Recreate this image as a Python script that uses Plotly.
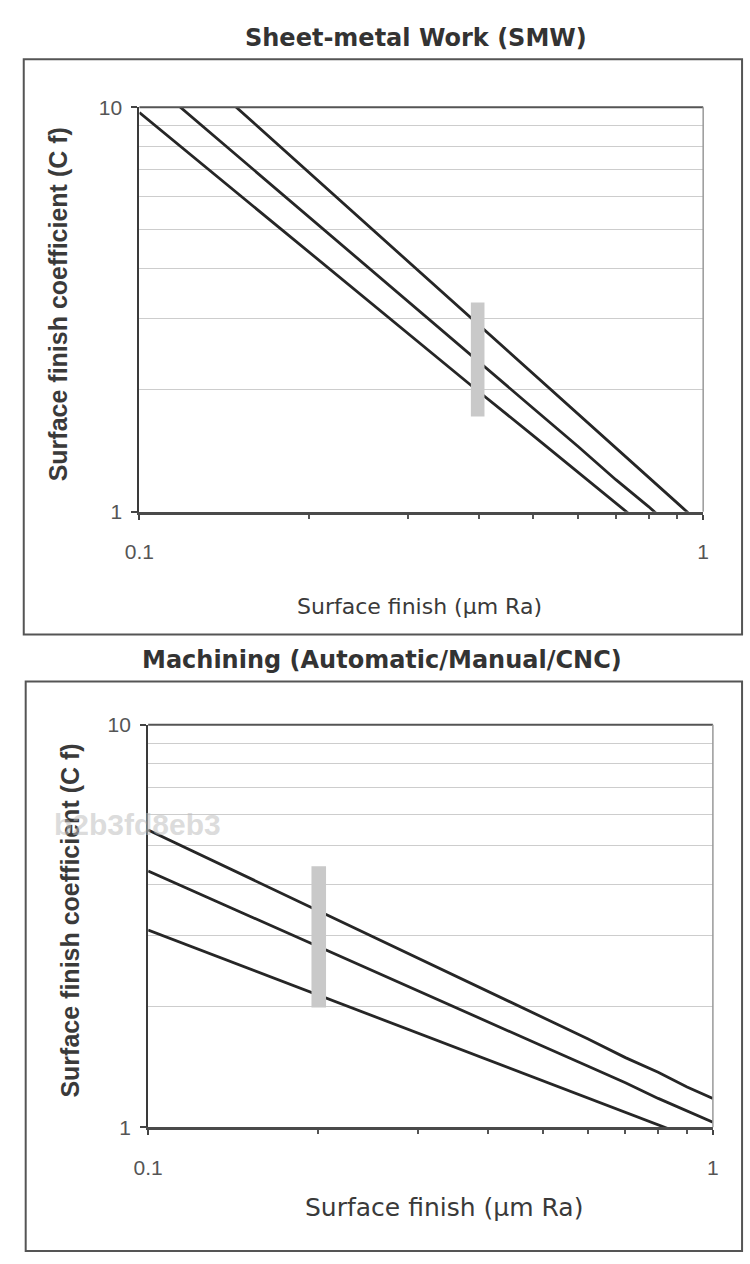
import plotly.graph_objects as go

W, H = 750, 1264

# ---------------- data ----------------
ra = [0.1, 0.2, 0.3, 0.4, 0.5, 0.6, 0.7, 0.8, 0.9, 1.0]

# Sheet-metal Work (SMW): surface finish coefficient Cf vs Ra
smw_low = [9.7, 4.38, 2.76, 1.98, 1.54, 1.25, 1.05, 0.90, 0.79, 0.70]
smw_mid = [12.2, 5.34, 3.30, 2.34, 1.80, 1.45, 1.20, 1.03, 0.89, 0.79]
smw_high = [16.4, 6.90, 4.16, 2.90, 2.20, 1.75, 1.44, 1.22, 1.05, 0.92]

# Machining (Automatic/Manual/CNC)
mach_high = [5.48, 3.45, 2.63, 2.17, 1.87, 1.66, 1.49, 1.37, 1.26, 1.18]
mach_mid = [4.33, 2.81, 2.18, 1.82, 1.59, 1.42, 1.29, 1.18, 1.10, 1.03]
mach_low = [3.09, 2.13, 1.71, 1.47, 1.30, 1.18, 1.09, 1.01, 0.95, 0.90]

y_ticks = [1, 10]
y_tick_text = ["1", "10"]
y_minor = [2, 3, 4, 5, 6, 7, 8, 9]
x_ticks = [0.1, 1]
x_tick_text = ["0.1", "1"]
x_minor = [0.2, 0.3, 0.4, 0.5, 0.6, 0.7, 0.8, 0.9]

top_title = "Sheet-metal Work (SMW)"
bot_title = "Machining (Automatic/Manual/CNC)"
x_title = "Surface finish (\u03bcm Ra)"
y_title = "Surface finish coefficient (C f)"
watermark = "b2b3fd8eb3"

# ---------------- helpers ----------------
def px(x):
    return x / W

def py(y):
    return 1 - y / H

FONT = "Liberation Sans, Arial, sans-serif"
WIDE = "DejaVu Sans, Liberation Sans, sans-serif"
LINE_COLOR = "#262626"

fig = go.Figure()

for ys in (smw_low, smw_mid, smw_high):
    fig.add_trace(go.Scatter(x=ra, y=ys, mode="lines", xaxis="x", yaxis="y",
                             line=dict(color=LINE_COLOR, width=2.8),
                             showlegend=False, hoverinfo="skip"))
for ys in (mach_high, mach_mid, mach_low):
    fig.add_trace(go.Scatter(x=ra, y=ys, mode="lines", xaxis="x2", yaxis="y2",
                             line=dict(color=LINE_COLOR, width=2.8),
                             showlegend=False, hoverinfo="skip"))

def xaxis_cfg(domain, anchor):
    return dict(
        type="log", range=[-1, 0], domain=domain, anchor=anchor,
        tickvals=x_ticks, ticktext=x_tick_text,
        ticks="outside", ticklen=5, tickwidth=1.5, tickcolor="#444",
        ticklabelstandoff=14,
        tickfont=dict(family=FONT, size=21, color="#555"),
        showgrid=False, zeroline=False,
        showline=True, linecolor="#4a4a4a", linewidth=3,
        minor=dict(tickvals=x_minor, ticks="outside", ticklen=4,
                   tickwidth=1.5, tickcolor="#555", showgrid=False),
        fixedrange=True,
    )

def yaxis_cfg(domain, anchor):
    return dict(
        type="log", range=[0, 1], domain=domain, anchor=anchor,
        tickvals=y_ticks, ticktext=y_tick_text,
        ticks="outside", ticklen=6, tickwidth=1.5, tickcolor="#444",
        ticklabelstandoff=5,
        tickfont=dict(family=FONT, size=21, color="#555"),
        showgrid=False, zeroline=False,
        showline=True, linecolor="#3a3a3a", linewidth=2,
        minor=dict(tickvals=y_minor, ticks="", showgrid=True,
                   gridcolor="#cdcdcd", gridwidth=1),
        fixedrange=True,
    )

top_x = [px(128), px(708)]
top_y = [py(509), py(97)]
bot_x = [px(137), px(718)]
bot_y = [py(1136), py(726)]

shapes = []
# outer frames
shapes.append(dict(type="rect", xref="paper", yref="paper",
                   x0=px(9), x1=px(748), y0=py(634), y1=py(48),
                   line=dict(color="#555", width=2), fillcolor="rgba(0,0,0,0)",
                   layer="below"))
shapes.append(dict(type="rect", xref="paper", yref="paper",
                   x0=px(11), x1=px(748), y0=py(1262), y1=py(682),
                   line=dict(color="#555", width=2), fillcolor="rgba(0,0,0,0)",
                   layer="below"))
# plot-area borders (top dark, right grey)
for (xd, yd) in ((top_x, top_y), (bot_x, bot_y)):
    shapes.append(dict(type="line", xref="paper", yref="paper",
                       x0=xd[0], x1=xd[1], y0=yd[1], y1=yd[1],
                       line=dict(color="#555", width=2)))
    shapes.append(dict(type="line", xref="paper", yref="paper",
                       x0=xd[1], x1=xd[1], y0=yd[0], y1=yd[1],
                       line=dict(color="#999", width=1.5)))
# grey label boxes on the curves
shapes.append(dict(type="rect", xref="paper", yref="paper",
                   x0=px(469), x1=px(483), y0=py(412), y1=py(296),
                   line=dict(width=0), fillcolor="#c9c9c9", layer="above"))
shapes.append(dict(type="rect", xref="paper", yref="paper",
                   x0=px(305), x1=px(320), y0=py(1014), y1=py(870),
                   line=dict(width=0), fillcolor="#c9c9c9", layer="above"))

annotations = [
    dict(text="<b>" + top_title + "</b>", xref="paper", yref="paper", x=px(413), y=py(26),
         showarrow=False, font=dict(family=WIDE, size=24, color="#333"),
         xanchor="center", yanchor="middle"),
    dict(text="<b>" + bot_title + "</b>", xref="paper", yref="paper", x=px(378), y=py(660),
         showarrow=False, font=dict(family=WIDE, size=24, color="#333"),
         xanchor="center", yanchor="middle"),
    dict(text=x_title, xref="paper", yref="paper", x=px(416), y=py(606),
         showarrow=False, font=dict(family=WIDE, size=22, color="#3a3a3a"),
         xanchor="center", yanchor="middle"),
    dict(text=x_title, xref="paper", yref="paper", x=px(441), y=py(1218),
         showarrow=False, font=dict(family=WIDE, size=25, color="#3a3a3a"),
         xanchor="center", yanchor="middle"),
    dict(text="<b>" + y_title + "</b>", xref="paper", yref="paper", x=px(44), y=py(298),
         showarrow=False, textangle=-90, font=dict(family=FONT, size=25, color="#3a3a3a"),
         xanchor="center", yanchor="middle"),
    dict(text="<b>" + y_title + "</b>", xref="paper", yref="paper", x=px(57), y=py(925),
         showarrow=False, textangle=-90, font=dict(family=FONT, size=25, color="#3a3a3a"),
         xanchor="center", yanchor="middle"),
    dict(text="<b>" + watermark + "</b>", xref="paper", yref="paper", x=px(214), y=py(828),
         showarrow=False, font=dict(family=FONT, size=30, color="rgba(190,190,190,0.55)"),
         xanchor="right", yanchor="middle"),
]

fig.update_layout(
    width=W, height=H,
    margin=dict(l=0, r=0, t=0, b=0),
    paper_bgcolor="white", plot_bgcolor="white",
    xaxis=xaxis_cfg(top_x, "y"),
    yaxis=yaxis_cfg(top_y, "x"),
    xaxis2=xaxis_cfg(bot_x, "y2"),
    yaxis2=yaxis_cfg(bot_y, "x2"),
    shapes=shapes,
    annotations=annotations,
    showlegend=False,
)

fig.write_html("out.html")
